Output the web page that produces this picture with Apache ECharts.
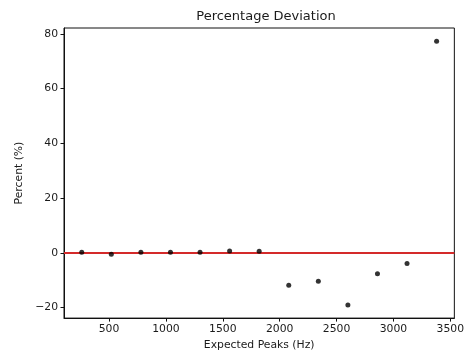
<!DOCTYPE html>
<html>
<head>
<meta charset="utf-8">
<script src="https://cdn.jsdelivr.net/npm/echarts@6/dist/echarts.min.js"></script>
<style>
  html, body { margin: 0; padding: 0; background: #fff; }
  #chart { width: 467px; height: 356px; }
</style>
</head>
<body>
<div id="chart"></div>
<script>
// Expected peak frequencies (Hz) and their percentage deviation
const expectedPeaks = [260, 520, 780, 1040, 1300, 1560, 1820, 2080, 2340, 2600, 2860, 3120, 3380];
const percentDeviation = [0.2, -0.5, 0.2, 0.2, 0.2, 0.7, 0.6, -11.8, -10.4, -19.0, -7.6, -3.9, 77.3];

// Tick positions shown on each axis
const xTicks = [500, 1000, 1500, 2000, 2500, 3000, 3500];
const yTicks = [-20, 0, 20, 40, 60, 80];

// Axis limits padded 5% beyond the data, like a default matplotlib view
const xPad = (Math.max(...expectedPeaks) - Math.min(...expectedPeaks)) * 0.05;
const yPad = (Math.max(...percentDeviation) - Math.min(...percentDeviation)) * 0.05;
const xMin = Math.min(...expectedPeaks) - xPad;
const xMax = Math.max(...expectedPeaks) + xPad;
const yMin = Math.min(...percentDeviation) - yPad;
const yMax = Math.max(...percentDeviation) + yPad;

const FONT = 'DejaVu Sans';
const TEXT = '#1a1a1a';
const minusSign = v => String(v).replace('-', '\u2212');

const chart = echarts.init(document.getElementById('chart'), null, { renderer: 'canvas' });
chart.setOption({
  animation: false,
  backgroundColor: '#ffffff',
  title: {
    text: 'Percentage Deviation',
    left: 261,
    top: 5,
    textAlign: 'center',
    textStyle: { fontFamily: FONT, fontSize: 13, fontWeight: 'normal', color: TEXT }
  },
  grid: {
    left: 64, right: 9, top: 28, bottom: 35,
    show: true, borderColor: '#111', borderWidth: 1, backgroundColor: 'transparent'
  },
  xAxis: {
    type: 'value',
    min: xMin, max: xMax,
    name: 'Expected Peaks (Hz)',
    nameLocation: 'middle',
    nameGap: 21,
    nameTextStyle: { fontFamily: FONT, fontSize: 10.8, color: TEXT },
    axisLine: { show: true, onZero: false, lineStyle: { color: '#111', width: 1 } },
    axisTick: { show: true, length: 3.5, customValues: xTicks, lineStyle: { color: '#111' } },
    axisLabel: {
      customValues: xTicks, margin: 6,
      fontFamily: FONT, fontSize: 10.8, color: TEXT,
      formatter: minusSign
    },
    splitLine: { show: false }
  },
  yAxis: {
    type: 'value',
    min: yMin, max: yMax,
    name: 'Percent (%)',
    nameLocation: 'middle',
    nameGap: 31,
    nameTextStyle: { fontFamily: FONT, fontSize: 10.8, color: TEXT },
    axisLine: { show: true, onZero: false, lineStyle: { color: '#111', width: 1 } },
    axisTick: { show: true, length: 3.5, customValues: yTicks, lineStyle: { color: '#111' } },
    axisLabel: {
      customValues: yTicks, margin: 6,
      fontFamily: FONT, fontSize: 10.8, color: TEXT,
      formatter: minusSign
    },
    splitLine: { show: false }
  },
  series: [
    {
      type: 'scatter',
      data: expectedPeaks.map((x, i) => [x, percentDeviation[i]]),
      symbol: 'circle',
      symbolSize: 5,
      itemStyle: { color: '#000' },
      z: 3,
      markLine: {
        silent: true,
        symbol: 'none',
        label: { show: false },
        lineStyle: { color: '#d42a2a', width: 2, type: 'solid' },
        data: [{ yAxis: 0 }],
        z: 2
      }
    }
  ]
});
</script>
</body>
</html>
